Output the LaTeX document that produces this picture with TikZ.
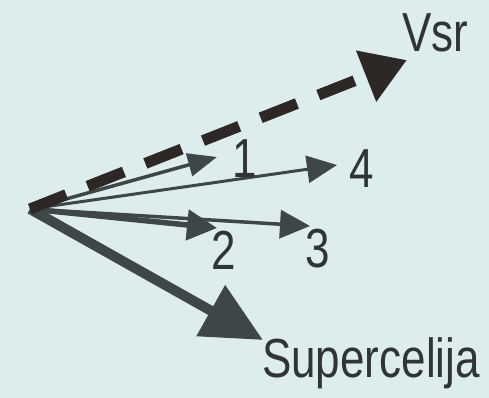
\documentclass[tikz,border=0pt]{standalone}
\usepackage{fontspec}
\setmainfont{Liberation Sans}
\usetikzlibrary{arrows.meta}
\definecolor{bg}{RGB}{221,237,238}
\definecolor{arr}{RGB}{62,70,72}
\definecolor{darr}{RGB}{45,40,38}
\definecolor{txt}{RGB}{48,52,54}
\tikzset{
  vec/.style={draw=arr, line cap=butt},
  lbl/.style={text=txt, inner sep=0pt, font=\fontsize{44}{44}\selectfont},
}
\newcommand{\stretchtext}[1]{\scalebox{1}[1.25]{#1}}
\begin{document}
\begin{tikzpicture}[x=1pt,y=-1pt]
\fill[bg] (0,0) rectangle (489,398);
\useasboundingbox (0,0) rectangle (489,398);
\coordinate (o) at (30,209);
\coordinate (tS) at (263,340);
\coordinate (t2) at (217,228);
\coordinate (t3) at (310,226);
\coordinate (t4) at (337,165);
\coordinate (t1) at (217,157);
\coordinate (tV) at (407,60);
\draw[vec, line width=10pt, -{Triangle[length=60pt,width=56pt]}] (o) -- (tS);
\draw[vec, line width=5.5pt, -{Triangle[length=30pt,width=30pt]}] (o) -- (t2);
\draw[vec, line width=3.5pt, -{Triangle[length=30pt,width=28pt]}] (o) -- (t3);
\draw[vec, line width=3pt, -{Triangle[length=30pt,width=27pt]}] (o) -- (t4);
\draw[vec, line width=3.5pt, -{Triangle[length=29pt,width=23pt]}] (o) -- (t1);
\draw[draw=darr, line width=11pt, dash pattern=on 39pt off 23pt, -{Triangle[length=44pt,width=52pt]}] (o) -- (tV);
\node[lbl] (lV) at (435,33) {\stretchtext{Vsr}};
\node[lbl] (l1) at (245,159) {\stretchtext{1}};
\node[lbl] (l4) at (362,169) {\stretchtext{4}};
\node[lbl] (l2) at (224,250) {\stretchtext{2}};
\node[lbl] (l3) at (318,249) {\stretchtext{3}};
\node[lbl] (lS) at (371,363) {\stretchtext{Supercelija}};
\end{tikzpicture}
\end{document}
